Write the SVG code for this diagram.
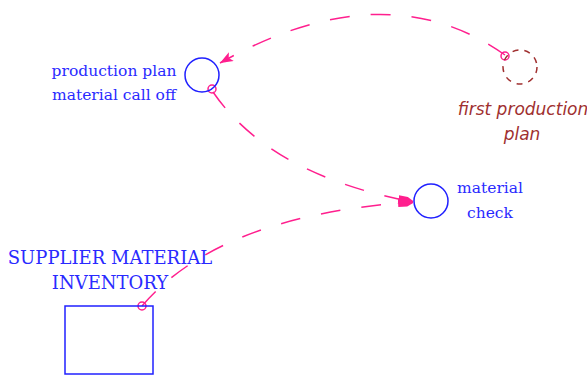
<svg xmlns="http://www.w3.org/2000/svg" width="587" height="377" viewBox="0 0 587 377">
<style>
.lbl{font-family:"DejaVu Serif","Liberation Serif",serif;font-size:15.5px;fill:#2a2aff;text-anchor:middle}
.big{font-size:18px}
.ital{font-family:"DejaVu Sans","Liberation Sans",sans-serif;font-style:italic;font-size:17px;fill:#a03030;text-anchor:middle}
.aux{fill:none;stroke:#2020ff;stroke-width:1.5}
.link{fill:none;stroke:#ff1f8e;stroke-width:1.5;stroke-dasharray:20 21}
.tail{fill:none;stroke:#ff1f8e;stroke-width:1.5}
</style>
<defs>
<marker id="arr" markerUnits="userSpaceOnUse" markerWidth="14" markerHeight="10" refX="13" refY="5" orient="auto">
<path d="M0,0 L13,5 L0,10 L3,5 z" fill="#ff1f8e"/>
</marker>
<marker id="sq" markerUnits="userSpaceOnUse" markerWidth="16" markerHeight="10" refX="15" refY="5" orient="auto">
<path d="M0,1 L9,1 L15,4 L15,6 L9,9 L0,9 z" fill="#ff1f8e"/>
</marker>
</defs>
<g id="connectors">
<path class="link" d="M505,55 Q385,-30 220,63" marker-end="url(#arr)"/>
<circle class="tail" cx="505" cy="56" r="4"/>
<path class="link" d="M213,92 Q270,175 413,202" marker-end="url(#sq)"/>
<circle class="tail" cx="212" cy="89" r="4"/>
<path class="link" d="M142,306 Q220,215 413,202" marker-end="url(#sq)"/>
<circle class="tail" cx="142" cy="306" r="4"/>
</g>
<g id="production_plan_material_call_off">
<circle class="aux" cx="202" cy="75" r="17"/>
<text class="lbl" x="114" y="76">production plan</text>
<text class="lbl" x="114" y="100">material call off</text>
</g>
<g id="first_production_plan">
<circle cx="520" cy="67" r="17" fill="none" stroke="#a03030" stroke-width="1.5" stroke-dasharray="6 6"/>
<text class="ital" x="523" y="115">first production</text>
<text class="ital" x="522" y="140">plan</text>
</g>
<g id="material_check">
<circle class="aux" cx="431" cy="201" r="17"/>
<text class="lbl" x="490" y="193">material</text>
<text class="lbl" x="490" y="218">check</text>
</g>
<g id="supplier_material_inventory">
<rect class="aux" x="65" y="306" width="88" height="68"/>
<text class="lbl big" x="110" y="264">SUPPLIER MATERIAL</text>
<text class="lbl big" x="110" y="289">INVENTORY</text>
</g>
</svg>
